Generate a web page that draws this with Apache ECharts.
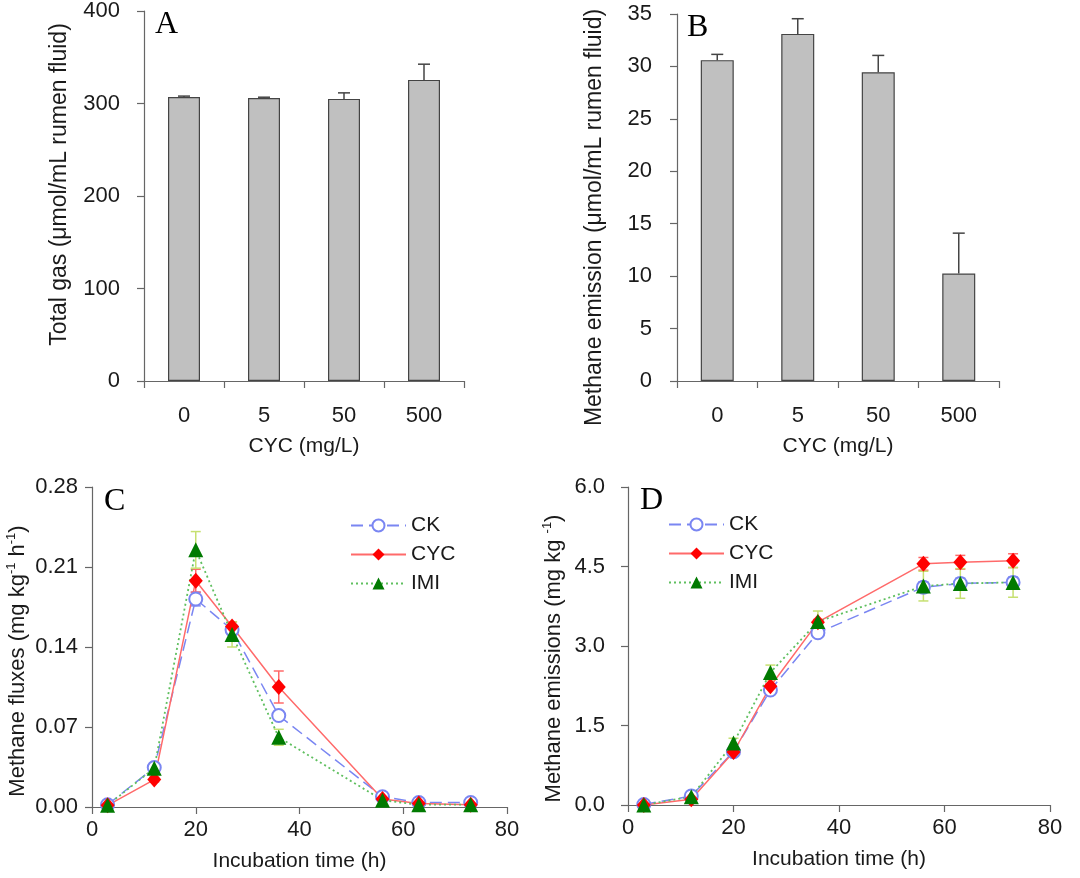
<!DOCTYPE html>
<html>
<head>
<meta charset="utf-8">
<script src="https://cdn.jsdelivr.net/npm/echarts@6/dist/echarts.min.js"></script>
<style>
html,body{margin:0;padding:0;background:#fff;}
#chart{width:1080px;height:878px;}
</style>
</head>
<body>
<div id="chart"></div>
<script>
// ---- data ----
const cycDoses = ['0', '5', '50', '500'];
const totalGas = [307, 306, 305, 325.5];
const totalGasErr = [1, 0.8, 6.5, 17];
const methaneB = [30.6, 33.1, 29.45, 10.25];
const methaneBErr = [0.55, 1.45, 1.6, 3.85];

const hours = [3, 12, 20, 27, 36, 56, 63, 73];
const fluxCK = [0.002, 0.0345, 0.182, 0.155, 0.080, 0.009, 0.004, 0.004];
const fluxCKErr = [0.001, 0.002, 0.006, 0.003, 0.003, 0.001, 0.001, 0.001];
const fluxCYC = [0.0015, 0.024, 0.198, 0.158, 0.105, 0.007, 0.003, 0.002];
const fluxCYCErr = [0.001, 0.002, 0.010, 0.004, 0.014, 0.001, 0.001, 0.001];
const fluxIMI = [0.0015, 0.034, 0.225, 0.151, 0.061, 0.006, 0.002, 0.002];
const fluxIMIErr = [0.001, 0.002, 0.016, 0.011, 0.007, 0.001, 0.001, 0.001];

const emisCK = [0.01, 0.17, 1.005, 2.17, 3.25, 4.11, 4.18, 4.20];
const emisCKErr = [0.02, 0.04, 0.05, 0.06, 0.08, 0.1, 0.1, 0.1];
const emisCYC = [0.0, 0.107, 1.0, 2.24, 3.45, 4.55, 4.58, 4.61];
const emisCYCErr = [0.02, 0.03, 0.04, 0.05, 0.05, 0.12, 0.13, 0.13];
const emisIMI = [0.0, 0.157, 1.17, 2.5, 3.46, 4.13, 4.18, 4.2];
const emisIMIErr = [0.02, 0.04, 0.09, 0.14, 0.2, 0.28, 0.28, 0.28];

const yTicksA = {min: 0, max: 400, interval: 100};
const yTicksB = {min: 0, max: 35, interval: 5};
const yTicksC = {min: 0, max: 0.28, interval: 0.07};
const yTicksD = {min: 0, max: 6, interval: 1.5};
const xTicksLine = {min: 0, max: 80, interval: 20};

// ---- styling ----
const FONT = '"Liberation Sans", Arial, sans-serif';
const SERIF = '"Liberation Serif", "Times New Roman", serif';
const AX = '#666';
const TXT = '#1a1a1a';
const colCK = '#7a86f2', colCYCLine = '#ff6a6a', colCYC = '#ff0000',
      colIMILine = '#5fbf5f', colIMI = '#007a00', colIMIErr = '#c6e070';

function pairs(xs, ys, es) { return xs.map((x, i) => [x, ys[i], es[i]]); }

function barErr(color) {
  return function (params, api) {
    const i = api.value(0), v = api.value(1), e = api.value(2);
    const b = api.coord([i, v]), t = api.coord([i, v + e]);
    const w = 6;
    const st = {stroke: color, lineWidth: 1.5};
    return {type: 'group', children: [
      {type: 'line', shape: {x1: b[0], y1: b[1], x2: t[0], y2: t[1]}, style: st},
      {type: 'line', shape: {x1: t[0] - w, y1: t[1], x2: t[0] + w, y2: t[1]}, style: st}
    ]};
  };
}
function lineErr(color) {
  return function (params, api) {
    const x = api.value(0), v = api.value(1), e = api.value(2);
    const t = api.coord([x, v + e]), b = api.coord([x, v - e]);
    const w = 5;
    const st = {stroke: color, lineWidth: 1.5};
    return {type: 'group', children: [
      {type: 'line', shape: {x1: b[0], y1: b[1], x2: t[0], y2: t[1]}, style: st},
      {type: 'line', shape: {x1: t[0] - w, y1: t[1], x2: t[0] + w, y2: t[1]}, style: st},
      {type: 'line', shape: {x1: b[0] - w, y1: b[1], x2: b[0] + w, y2: b[1]}, style: st}
    ]};
  };
}

function catAxis(gi, name) {
  return {
    type: 'category', gridIndex: gi, data: cycDoses, boundaryGap: true,
    name: name, nameLocation: 'middle', nameGap: 55,
    nameTextStyle: {fontFamily: FONT, fontSize: 21, color: TXT},
    axisLine: {lineStyle: {color: AX, width: 1.2}},
    axisTick: {show: true, inside: false, length: 7, interval: 0, alignWithLabel: false, lineStyle: {color: AX, width: 1.2}},
    axisLabel: {fontFamily: FONT, fontSize: 22, color: TXT, margin: 24, interval: 0},
    splitLine: {show: false}
  };
}
function valAxis(gi, ticks, name, gap, digits, margin, nameSize, pad, rich) {
  return {
    type: 'value', gridIndex: gi, min: ticks.min, max: ticks.max, interval: ticks.interval,
    name: name, nameLocation: 'middle', nameGap: gap,
    nameTextStyle: Object.assign({fontFamily: FONT, fontSize: nameSize, color: TXT, lineHeight: 26, padding: pad}, rich ? {rich: rich} : {}),
    axisLine: {show: true, lineStyle: {color: AX, width: 1.2}},
    axisTick: {show: true, inside: false, length: 7, lineStyle: {color: AX, width: 1.2}},
    axisLabel: {fontFamily: FONT, fontSize: 22, color: TXT, margin: margin,
      formatter: v => digits == null ? String(v) : Number(v).toFixed(digits)},
    splitLine: {show: false}
  };
}
function timeAxis(gi) {
  return {
    type: 'value', gridIndex: gi, min: xTicksLine.min, max: xTicksLine.max, interval: xTicksLine.interval,
    name: 'Incubation time (h)', nameLocation: 'middle', nameGap: 44,
    nameTextStyle: {fontFamily: FONT, fontSize: 21, color: TXT},
    axisLine: {lineStyle: {color: AX, width: 1.2}},
    axisTick: {show: true, inside: false, length: 7, lineStyle: {color: AX, width: 1.2}},
    axisLabel: {fontFamily: FONT, fontSize: 22, color: TXT, margin: 12},
    splitLine: {show: false}
  };
}

const supRich = {s: {fontFamily: FONT, fontSize: 13, color: TXT, verticalAlign: 'top', lineHeight: 14}};

function lineSeries(name, xi, data, opts) {
  return Object.assign({
    type: 'line', name: name, xAxisIndex: xi, yAxisIndex: xi,
    data: hours.map((h, i) => [h, data[i]]), z: 5
  }, opts);
}
const ckStyle = {symbol: 'emptyCircle', symbolSize: 13,
  itemStyle: {color: colCK, borderColor: colCK, borderWidth: 1.5},
  lineStyle: {color: colCK, width: 1.5, type: [12, 6]}};
const cycStyle = {symbol: 'diamond', symbolSize: [14, 16],
  itemStyle: {color: colCYC},
  lineStyle: {color: colCYCLine, width: 1.5, type: 'solid'}};
const imiStyle = {symbol: 'triangle', symbolSize: 15,
  itemStyle: {color: colIMI},
  lineStyle: {color: colIMILine, width: 1.8, type: [2, 3]}};

function errSeries(xi, xs, ys, es, color, bar) {
  return {type: 'custom', xAxisIndex: xi, yAxisIndex: xi, clip: false, z: 4,
    renderItem: bar ? barErr(color) : lineErr(color),
    data: bar ? ys.map((v, i) => [i, v, es[i]]) : pairs(xs, ys, es), silent: true};
}

const legendCommon = {orient: 'vertical', itemWidth: 55, itemHeight: 15, itemGap: 8,
  textStyle: {fontFamily: FONT, fontSize: 21, color: TXT}, data: ['CK', 'CYC', 'IMI'], selectedMode: false};

const option = {
  animation: false,
  backgroundColor: '#fff',
  grid: [
    {left: 144, top: 11, width: 320, height: 370, outerBoundsMode: 'none', containLabel: false},
    {left: 677, top: 14, width: 322, height: 367, outerBoundsMode: 'none', containLabel: false},
    {left: 92, top: 487, width: 415, height: 320, outerBoundsMode: 'none', containLabel: false},
    {left: 628, top: 487, width: 422, height: 318, outerBoundsMode: 'none', containLabel: false}
  ],
  xAxis: [catAxis(0, 'CYC (mg/L)'), catAxis(1, 'CYC (mg/L)'), timeAxis(2), timeAxis(3)],
  yAxis: [
    valAxis(0, yTicksA, 'Total gas (μmol/mL rumen fluid)', 71, null, 24, 23, [0, 0, 0, 23]),
    valAxis(1, yTicksB, 'Methane emission (μmol/mL rumen fluid)', 69, null, 25, 23, [0, 40, 0, 0]),
    valAxis(2, yTicksC, 'Methane fluxes (mg kg{s|-1} h{s|-1})', 61, 2, 14, 22, [0, 28, 0, 0], supRich),
    valAxis(3, yTicksD, 'Methane emissions (mg kg {s|-1})', 61, 1, 23, 22, [0, 25, 0, 0], supRich)
  ],
  legend: [
    Object.assign({left: 345, top: 510}, legendCommon),
    Object.assign({left: 663, top: 509}, legendCommon)
  ],
  graphic: [
    {type: 'text', left: 155, top: 9, style: {text: 'A', font: '32px ' + SERIF, fill: '#000'}},
    {type: 'text', left: 687, top: 12, style: {text: 'B', font: '32px ' + SERIF, fill: '#000'}},
    {type: 'text', left: 104, top: 486, style: {text: 'C', font: '32px ' + SERIF, fill: '#000'}},
    {type: 'text', left: 640, top: 485, style: {text: 'D', font: '32px ' + SERIF, fill: '#000'}}
  ],
  series: [
    {type: 'bar', xAxisIndex: 0, yAxisIndex: 0, data: totalGas, barWidth: 32,
      itemStyle: {color: '#c0c0c0', borderColor: '#444', borderWidth: 1.2}},
    errSeries(0, null, totalGas, totalGasErr, '#444', true),
    {type: 'bar', xAxisIndex: 1, yAxisIndex: 1, data: methaneB, barWidth: 33,
      itemStyle: {color: '#c0c0c0', borderColor: '#444', borderWidth: 1.2}},
    errSeries(1, null, methaneB, methaneBErr, '#444', true),

    errSeries(2, hours, fluxCK, fluxCKErr, colCK, false),
    errSeries(2, hours, fluxCYC, fluxCYCErr, colCYCLine, false),
    errSeries(2, hours, fluxIMI, fluxIMIErr, colIMIErr, false),
    lineSeries('CK', 2, fluxCK, ckStyle),
    lineSeries('CYC', 2, fluxCYC, cycStyle),
    lineSeries('IMI', 2, fluxIMI, imiStyle),

    errSeries(3, hours, emisCK, emisCKErr, colCK, false),
    errSeries(3, hours, emisCYC, emisCYCErr, colCYCLine, false),
    errSeries(3, hours, emisIMI, emisIMIErr, colIMIErr, false),
    lineSeries('CK', 3, emisCK, ckStyle),
    lineSeries('CYC', 3, emisCYC, cycStyle),
    lineSeries('IMI', 3, emisIMI, imiStyle)
  ]
};

const chart = echarts.init(document.getElementById('chart'), null, {renderer: 'canvas'});
chart.setOption(option);
</script>
</body>
</html>
